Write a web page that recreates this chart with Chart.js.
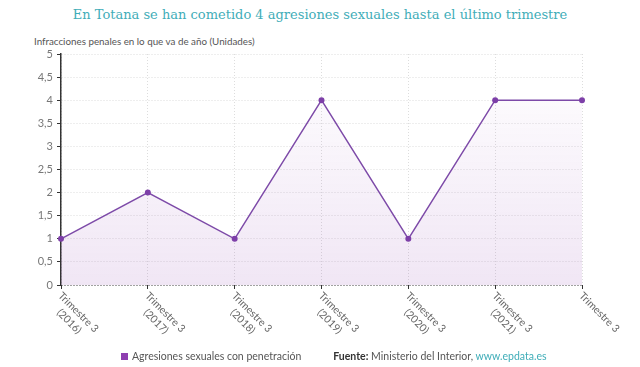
<!DOCTYPE html>
<html>
<head>
<meta charset="utf-8">
<script src="https://cdn.jsdelivr.net/npm/chart.js@4.4.0/dist/chart.umd.min.js"></script>
<style>
  html, body { margin: 0; padding: 0; background: #fff; }
  #wrap { position: relative; width: 640px; height: 367px; overflow: hidden; }
  #title { position: absolute; top: 7px; left: 0; width: 640px; text-align: center;
    font-family: "DejaVu Serif", serif; font-size: 13px; color: #3fadb8; }
  #ylab { position: absolute; top: 35px; left: 34px; font-family: Lato, sans-serif;
    font-size: 9.8px; color: #555; }
  #foot { position: absolute; top: 350px; left: 121px; font-family: Lato, sans-serif;
    font-size: 10.5px; color: #555; white-space: nowrap; }
  #foot .sq { display: inline-block; width: 7px; height: 7px; background: #8e3fb0; margin-right: 4px; }
  #foot b { color: #333; }
  #foot .url { color: #3fadb8; }
  canvas { position: absolute; top: 0; left: 0; }
</style>
</head>
<body>
<div id="wrap">
  <div id="title">En Totana se han cometido 4 agresiones sexuales hasta el último trimestre</div>
  <div id="ylab">Infracciones penales en lo que va de año (Unidades)</div>
  <canvas id="myChart" width="640" height="367"></canvas>
  <div id="foot"><span class="sq"></span>Agresiones sexuales con penetración<span style="display:inline-block;width:32px"></span><b>Fuente:</b> Ministerio del Interior, <span class="url">www.epdata.es</span></div>
</div>
<script>
// data
const quarters = ['Trimestre 3', 'Trimestre 3', 'Trimestre 3', 'Trimestre 3', 'Trimestre 3', 'Trimestre 3', 'Trimestre 3']
const years = ['(2016)', '(2017)', '(2018)', '(2019)', '(2020)', '(2021)', '']
const agresiones = [1, 2, 1, 4, 1, 4, 4]

// rotated x labels (45deg, lines centred on each other), drawn from tick positions
const slantLabels = {
    id: 'slantLabels',
    afterDraw(chart) {
        const ctx = chart.ctx
        const xs = chart.scales.x
        ctx.save()
        ctx.font = '10.5px Lato, sans-serif'
        ctx.fillStyle = '#666'
        ctx.textAlign = 'center'
        ctx.textBaseline = 'middle'
        xs.ticks.forEach((t, i) => {
            const x = xs.getPixelForTick(i)
            const w = ctx.measureText(quarters[i]).width
            ctx.save()
            ctx.translate(x - 1, xs.top + 9)
            ctx.rotate(Math.PI / 4)
            ctx.fillText(quarters[i], w / 2, 0)
            if (years[i]) ctx.fillText(years[i], w / 2, 13)
            ctx.restore()
        })
        ctx.restore()
    }
}

const ctx = document.getElementById('myChart')
new Chart(ctx, {
    type: 'line',
    data: {
        labels: quarters.map((q, i) => q + ' ' + years[i]),
        datasets: [{
            data: agresiones,
            borderColor: '#7d4aa8',
            borderWidth: 1.5,
            pointRadius: 3,
            pointBackgroundColor: '#7d3fa8',
            pointBorderWidth: 0,
            tension: 0,
            fill: 'origin',
            backgroundColor: (c) => {
                const area = c.chart.chartArea
                if (!area) return 'rgba(142,63,176,0.08)'
                const g = c.chart.ctx.createLinearGradient(0, area.top, 0, area.bottom)
                g.addColorStop(0, 'rgba(142,63,176,0.0)')
                g.addColorStop(1, 'rgba(142,63,176,0.13)')
                return g
            }
        }]
    },
    options: {
        responsive: false,
        animation: false,
        layout: {
            padding: { left: 21, right: 58, top: 54, bottom: 74 }
        },
        scales: {
            y: {
                min: 0,
                max: 5,
                afterFit: (s) => { s.width = 40 },
                ticks: {
                    stepSize: 0.5,
                    color: '#777',
                    font: { family: 'Lato, sans-serif', size: 11 },
                    padding: 4,
                    callback: (v) => String(v).replace('.', ',')
                },
                grid: {
                    // the zero line doubles as the dotted x axis
                    color: (c) => c.index === 0 ? '#444' : '#ddd',
                    tickColor: '#333',
                    tickLength: 4,
                    lineWidth: 1
                },
                border: { color: '#333', width: 1.5, dash: [1, 2] }
            },
            x: {
                afterFit: (s) => { s.height = 8 },
                ticks: { display: false },
                grid: {
                    color: '#ddd',
                    tickColor: '#333',
                    tickLength: 4,
                    offset: false
                },
                border: { display: false, dash: [1, 2] }
            }
        },
        plugins: {
            legend: { display: false },
            tooltip: { enabled: false }
        }
    },
    plugins: [slantLabels]
})
</script>
</body>
</html>
